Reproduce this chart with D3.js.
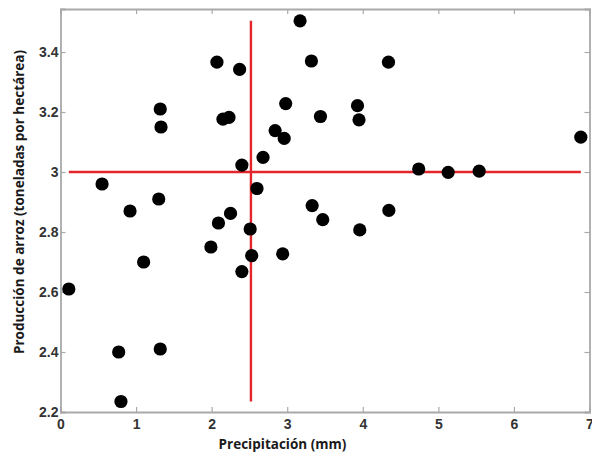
<!DOCTYPE html>
<html>
<head>
<meta charset="utf-8">
<script src="https://cdn.jsdelivr.net/npm/d3@7"></script>
<style>
  html, body { margin: 0; padding: 0; background: #fff; }
  svg { display: block; }
</style>
</head>
<body>
<svg id="chart" width="592" height="454"></svg>
<script>
// Rainfall (mm) and rice yield (t/ha) per observation
const precipitacion = [
  0.11, 0.55, 0.92, 0.77, 0.80, 1.10, 1.30, 1.32, 1.33, 1.32,
  1.99, 2.07, 2.09, 2.15, 2.23, 2.25, 2.37, 2.40, 2.40, 2.51,
  2.53, 2.60, 2.68, 2.84, 2.94, 2.96, 2.98, 3.17, 3.32, 3.33,
  3.44, 3.47, 3.93, 3.95, 3.96, 4.34, 4.345, 4.74, 5.13, 5.54, 6.885
];
const produccion = [
  2.61, 2.96, 2.87, 2.40, 2.235, 2.70, 2.91, 3.21, 3.15, 2.41,
  2.75, 3.366, 2.83, 3.176, 3.182, 2.862, 3.342, 3.023, 2.668, 2.81,
  2.721, 2.945, 3.049, 3.138, 2.727, 3.112, 3.228, 3.504, 3.37, 2.888,
  3.185, 2.841, 3.221, 3.174, 2.807, 3.366, 2.872, 3.01, 2.999, 3.003, 3.116
];
const xTicks = [0, 1, 2, 3, 4, 5, 6, 7];
const yTicks = [2.2, 2.4, 2.6, 2.8, 3.0, 3.2, 3.4];
// Reference lines through the centre of the cloud
const lineaX = [2.52];
const lineaY = [3.0];

const svg = d3.select("#chart");
const m = { left: 60.5, right: 589.5, top: 9, bottom: 412 };

const x = d3.scaleLinear().domain([0, 7]).range([m.left, m.right]);
const y = d3.scaleLinear().domain([2.2, 2.2 + (m.bottom - m.top) / 300]).range([m.bottom, m.top]);

const axisColor = "#a9a9a9";
const tickFont = "Liberation Sans, Arial, sans-serif";

// Bottom and left axes with inward ticks
const gx = svg.append("g").attr("transform", `translate(0,${m.bottom})`)
  .call(d3.axisBottom(x).tickValues(xTicks).tickSize(-5).tickPadding(7).tickFormat(d3.format("d")));
const gy = svg.append("g").attr("transform", `translate(${m.left},0)`)
  .call(d3.axisLeft(y).tickValues(yTicks).tickSize(-5).tickPadding(4)
    .tickFormat(d => d === 3 ? "3" : d3.format(".1f")(d)));
// Top and right mirrors (ticks only)
const gt = svg.append("g").attr("transform", `translate(0,${m.top})`)
  .call(d3.axisTop(x).tickValues(xTicks).tickSize(-5).tickFormat(""));
const gr = svg.append("g").attr("transform", `translate(${m.right},0)`)
  .call(d3.axisRight(y).tickValues(yTicks).tickSize(-5).tickFormat(""));

[gx, gy, gt, gr].forEach(g => {
  g.selectAll(".domain").attr("stroke", axisColor).attr("stroke-width", 1.8);
  g.selectAll(".tick line").attr("stroke", axisColor).attr("stroke-width", 1.2);
  g.selectAll(".tick text")
    .attr("fill", "#333")
    .style("font-family", tickFont)
    .style("font-size", "14px")
    .style("font-weight", "bold");
});
gy.selectAll(".tick text").attr("dx", "2");

// Reference lines spanning the data range
const xExt = d3.extent(precipitacion), yExt = d3.extent(produccion);
svg.selectAll("line.hline").data(lineaY).join("line")
  .attr("class", "hline")
  .attr("x1", x(xExt[0])).attr("x2", x(xExt[1]))
  .attr("y1", d => y(d)).attr("y2", d => y(d))
  .attr("stroke", "#e3262b").attr("stroke-width", 2.4);
svg.selectAll("line.vline").data(lineaX).join("line")
  .attr("class", "vline")
  .attr("x1", d => x(d)).attr("x2", d => x(d))
  .attr("y1", y(yExt[0])).attr("y2", y(yExt[1]))
  .attr("stroke", "#e3262b").attr("stroke-width", 2.4);

// Scatter points
svg.selectAll("circle.pt").data(precipitacion.map((p, i) => [p, produccion[i]])).join("circle")
  .attr("class", "pt")
  .attr("cx", d => x(d[0])).attr("cy", d => y(d[1]))
  .attr("r", 6.6)
  .attr("fill", "#000");

// Axis titles
const titleFont = "Open Sans, Lato, sans-serif";
svg.append("text")
  .attr("x", 282.5).attr("y", 449)
  .attr("text-anchor", "middle")
  .style("font-family", titleFont).style("font-weight", "bold").style("font-size", "13.5px")
  .attr("fill", "#1a1a1a")
  .text("Precipitación (mm)");
svg.append("text")
  .attr("transform", "translate(24,202) rotate(-90)")
  .attr("text-anchor", "middle")
  .style("font-family", titleFont).style("font-weight", "bold").style("font-size", "13.5px")
  .attr("fill", "#1a1a1a")
  .text("Producción de arroz (toneladas por hectárea)");
</script>
</body>
</html>
